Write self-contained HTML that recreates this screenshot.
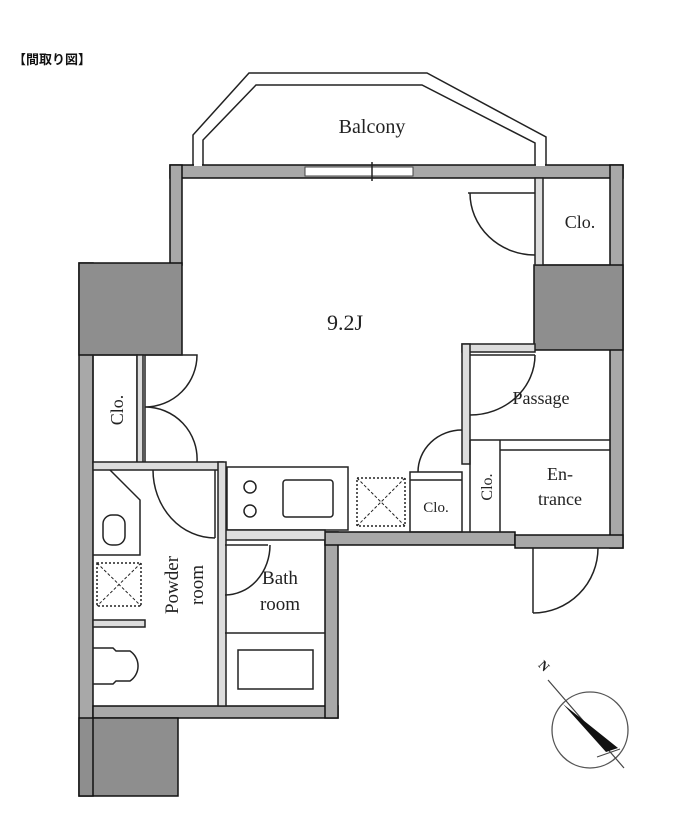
<!DOCTYPE html>
<html><head><meta charset="utf-8"><style>
html,body{margin:0;padding:0;background:#fff;}
svg{display:block}
text{font-family:"Liberation Serif",serif;fill:#222}
</style></head><body>
<svg width="700" height="818" viewBox="0 0 700 818" xmlns="http://www.w3.org/2000/svg">
<text x="13" y="64" style="font-family:'Liberation Sans','Noto Sans CJK JP',sans-serif;font-weight:bold;font-size:13px;fill:#111">【間取り図】</text>

<polyline points="193,165 193,135 249,73 427,73 546,137 546,165" fill="none" stroke="#222" stroke-width="1.5"/>
<polyline points="203,165 203,140 256,85 422,85 535,143 535,165" fill="none" stroke="#222" stroke-width="1.5"/>
<text x="372" y="133" font-size="20" text-anchor="middle">Balcony</text>

<g fill="#a8a8a8" stroke="#111" stroke-width="1.5">
  <rect x="170" y="165" width="453" height="13"/>
  <rect x="610" y="165" width="13" height="383"/>
  <rect x="170" y="165" width="12" height="100"/>
  <rect x="79" y="263" width="14" height="533"/>
  <rect x="93" y="706" width="245" height="12"/>
  <rect x="325" y="532" width="13" height="186"/>
  <rect x="325" y="532" width="190" height="13"/>
  <rect x="515" y="535" width="108" height="13"/>
</g>
<rect x="305" y="167" width="108" height="9" fill="#fff" stroke="#444" stroke-width="1"/>
<line x1="372" y1="162" x2="372" y2="181" stroke="#222" stroke-width="1.5"/>
<rect x="194" y="162" width="8" height="4" fill="#fff"/>
<rect x="536" y="162" width="9" height="4" fill="#fff"/>

<rect x="79" y="263" width="103" height="92" fill="#8e8e8e" stroke="#111" stroke-width="1.5"/>
<rect x="534" y="265" width="89" height="85" fill="#8e8e8e" stroke="#111" stroke-width="1.5"/>
<rect x="79" y="718" width="99" height="78" fill="#8e8e8e" stroke="#111" stroke-width="1.5"/>
<line x1="93" y1="718" x2="93" y2="796" stroke="#111" stroke-width="1.5"/>

<g fill="none" stroke="#222" stroke-width="1.5">
  <rect x="535" y="178" width="8" height="87" fill="#ddd"/>
  <line x1="543" y1="265" x2="610" y2="265"/>
  <line x1="468" y1="193" x2="535" y2="193"/>
  <path d="M470,193 A65,62 0 0 0 535,255"/>
  <rect x="462" y="344" width="73" height="8" fill="#ddd"/>
  <rect x="462" y="344" width="8" height="120" fill="#ddd"/>
  <line x1="470" y1="355" x2="535" y2="355"/>
  <path d="M535,355 A65,60 0 0 1 470,415"/>
  <line x1="470" y1="440" x2="610" y2="440"/>
  <line x1="500" y1="450" x2="610" y2="450"/>
  <line x1="500" y1="440" x2="500" y2="532"/>
  <line x1="470" y1="440" x2="470" y2="532"/>
  <rect x="410" y="472" width="52" height="60"/>
  <line x1="410" y1="480" x2="462" y2="480"/>
  <path d="M418,472 A44,42 0 0 1 462,430"/>
  <rect x="357" y="478" width="48" height="48" stroke-dasharray="2,2"/>
  <path d="M357,478 L405,526 M405,478 L357,526" stroke-dasharray="3,2" stroke-width="1"/>
  <rect x="227" y="467" width="121" height="63"/>
  <circle cx="250" cy="487" r="6"/>
  <circle cx="250" cy="511" r="6"/>
  <rect x="283" y="480" width="50" height="37" rx="3"/>
  <rect x="225" y="530" width="100" height="10" fill="#ddd"/>
  <rect x="93" y="355" width="44" height="108"/>
  <rect x="137" y="355" width="6" height="108" fill="#ddd"/>
  <path d="M145,355 L197,355 A52,52 0 0 1 145,407 A52,52 0 0 1 197,462"/>
  <line x1="145" y1="355" x2="145" y2="462"/>
  <rect x="93" y="462" width="130" height="8" fill="#ddd"/>
  <rect x="218" y="462" width="8" height="244" fill="#ddd"/>
  <path d="M153,470 A62,68 0 0 0 215,538"/>
  <line x1="215" y1="470" x2="215" y2="538"/>
  <path d="M110,470 L140,500 L140,555 L93,555"/>
  <rect x="103" y="515" width="22" height="30" rx="9"/>
  <rect x="97" y="563" width="44" height="43" stroke-dasharray="2,2"/>
  <path d="M97,563 L141,606 M141,563 L97,606" stroke-dasharray="3,2" stroke-width="1"/>
  <rect x="93" y="620" width="52" height="7" fill="#ddd"/>
  <path d="M93,648 L113,648 L116,651 L130,651 A18,18 0 0 1 130,681 L116,681 L113,684 L93,684"/>
  <line x1="225" y1="545" x2="268" y2="545"/>
  <path d="M270,545 A45,50 0 0 1 225,595"/>
  <line x1="225" y1="633" x2="325" y2="633"/>
  <rect x="238" y="650" width="75" height="39"/>
  <line x1="533" y1="548" x2="533" y2="613"/>
  <path d="M533,613 A65,65 0 0 0 598,548"/>
</g>

<text x="345" y="330" font-size="22" text-anchor="middle">9.2J</text>
<text x="580" y="228" font-size="18" text-anchor="middle">Clo.</text>
<text x="541" y="404" font-size="18" text-anchor="middle">Passage</text>
<text x="560" y="480" font-size="18" text-anchor="middle">En-</text>
<text x="560" y="505" font-size="18" text-anchor="middle">trance</text>
<text x="436" y="512" font-size="15" text-anchor="middle">Clo.</text>
<text transform="translate(492,487) rotate(-90)" font-size="16" text-anchor="middle">Clo.</text>
<text transform="translate(123,410) rotate(-90)" font-size="18" text-anchor="middle">Clo.</text>
<text transform="translate(178,585) rotate(-90)" font-size="19" text-anchor="middle">Powder</text>
<text transform="translate(203,585) rotate(-90)" font-size="19" text-anchor="middle">room</text>
<text x="280" y="584" font-size="19" text-anchor="middle">Bath</text>
<text x="280" y="610" font-size="19" text-anchor="middle">room</text>

<circle cx="590" cy="730" r="38" fill="none" stroke="#555" stroke-width="1.3"/>
<line x1="548" y1="680" x2="624" y2="768" stroke="#444" stroke-width="1.2"/>
<polygon points="563,704 618,748 606,752" fill="#111"/>
<line x1="597" y1="757" x2="620" y2="749" stroke="#444" stroke-width="1"/>
<text transform="translate(541,669) rotate(45)" font-size="13" font-weight="bold" text-anchor="middle">N</text>
</svg>
</body></html>
